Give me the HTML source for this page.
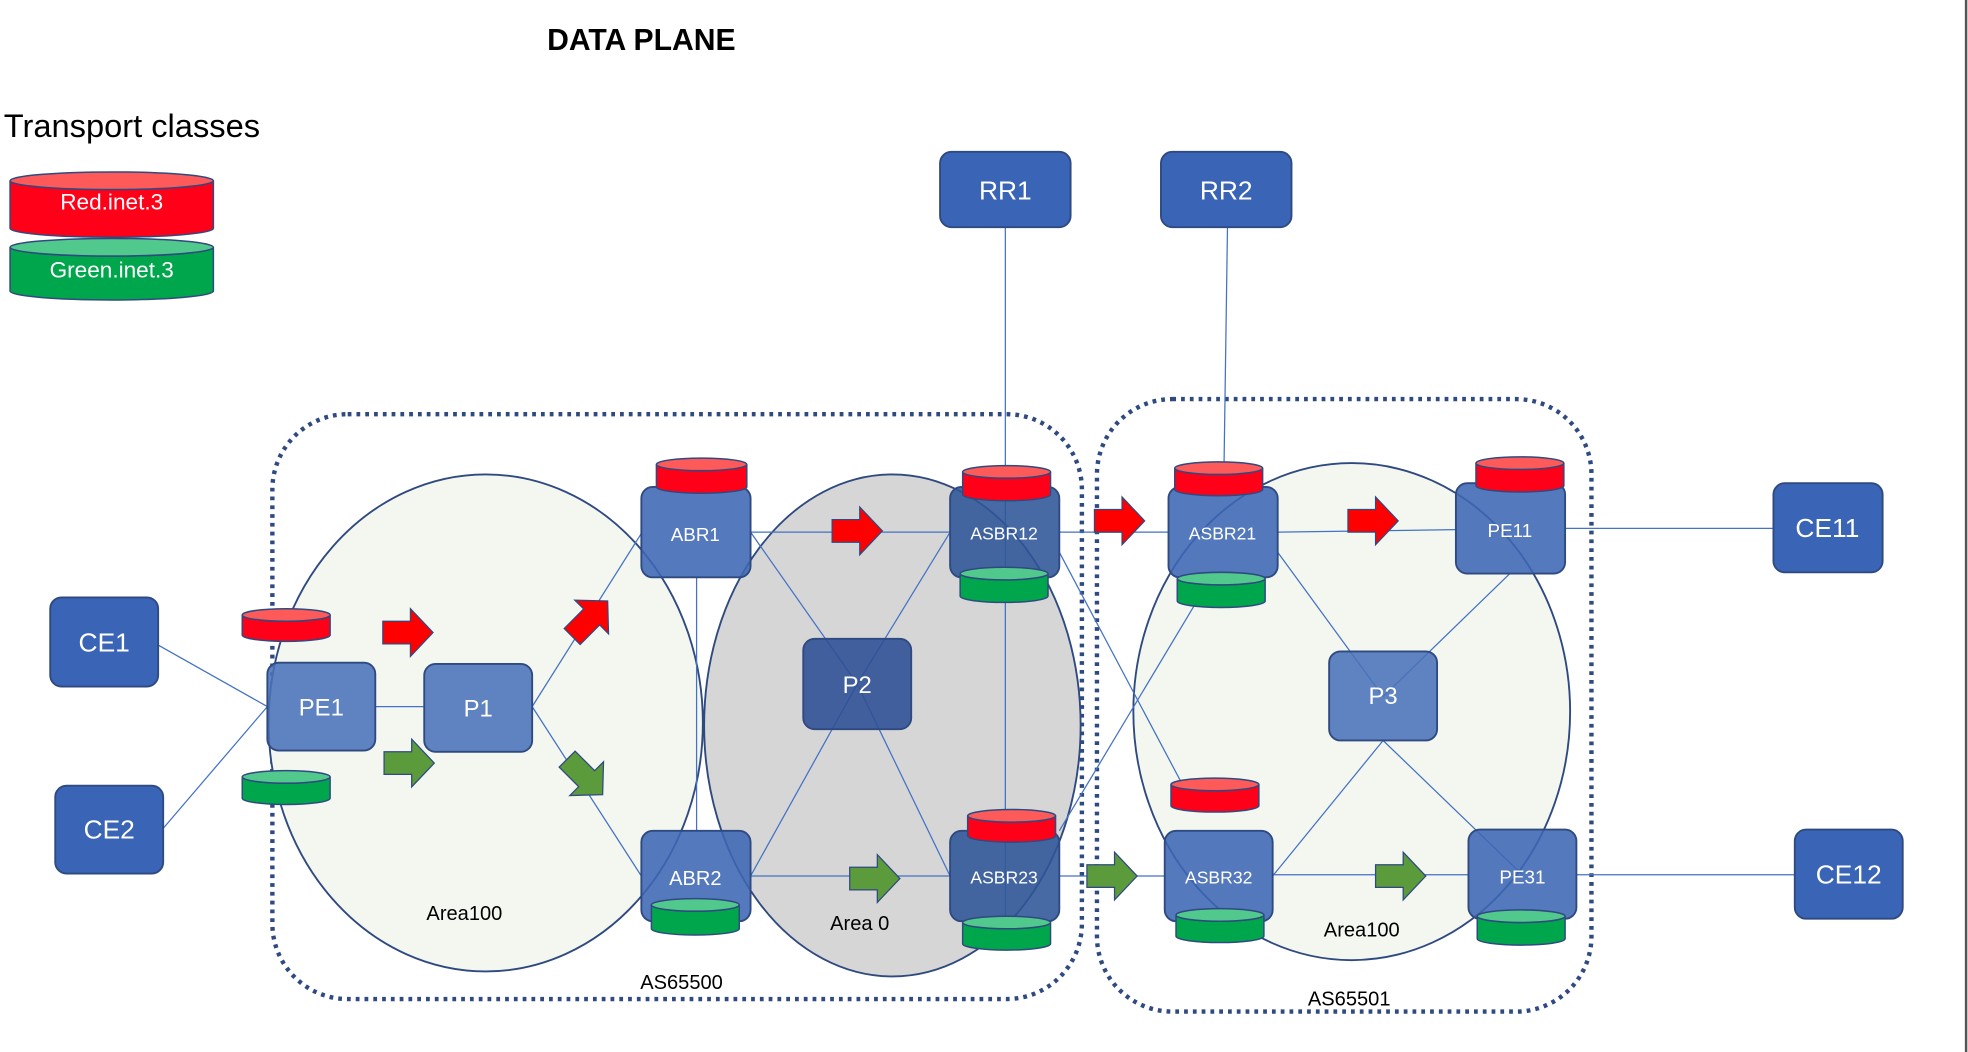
<!DOCTYPE html>
<html><head><meta charset="utf-8"><style>
html,body{margin:0;padding:0;background:#fff}
svg{display:block}
text{font-family:"Liberation Sans",sans-serif}
</style></head><body>
<svg width="1968" height="1052" viewBox="0 0 1568 838.2" xmlns="http://www.w3.org/2000/svg">
<rect x="0" y="0" width="1568" height="839" fill="#fff"/>
<line x1="1566.5" y1="0" x2="1566.5" y2="839" stroke="#555" stroke-width="2"/>
<text x="511" y="40" font-size="24" font-weight="bold" text-anchor="middle">DATA PLANE</text>
<text x="3" y="109" font-size="26">Transport classes</text>
<!-- legend -->
<g stroke="#2f4a80" stroke-width="1.2">
<path d="M8 144 a81 7 0 0 0 162 0 v38 a81 7 0 0 1 -162 0 z" fill="#ff0018"/>
<ellipse cx="89" cy="144" rx="81" ry="7" fill="#ff5a5a"/>
<path d="M8 197 a81 7 0 0 0 162 0 v35 a81 7 0 0 1 -162 0 z" fill="#00a64c"/>
<ellipse cx="89" cy="197" rx="81" ry="7" fill="#52c98c"/>
</g>
<text x="89" y="167" font-size="18" fill="#fff" text-anchor="middle">Red.inet.3</text>
<text x="89" y="221" font-size="18" fill="#fff" text-anchor="middle">Green.inet.3</text>

<!-- AS boundaries -->
<rect x="217" y="330" width="645" height="466" rx="60" fill="none" stroke="#2f4a80" stroke-width="3.5" stroke-dasharray="3,4"/>
<rect x="874" y="318" width="394" height="488" rx="60" fill="none" stroke="#2f4a80" stroke-width="3.5" stroke-dasharray="3,4"/>
<!-- areas -->
<ellipse cx="387" cy="576" rx="173" ry="198" fill="#f4f7f0" stroke="#2f4a80" stroke-width="1.5"/>
<ellipse cx="711" cy="578" rx="150" ry="200" fill="#d6d6d6" stroke="#2f4a80" stroke-width="1.5"/>
<ellipse cx="1077" cy="567" rx="174" ry="198" fill="#f4f7f0" stroke="#2f4a80" stroke-width="1.5"/>

<!-- links -->
<g stroke="#4472c4" stroke-width="1">
<line x1="126" y1="514" x2="213" y2="563"/>
<line x1="130" y1="660" x2="213" y2="563"/>
<line x1="299" y1="563" x2="338" y2="563"/>
<line x1="424" y1="563" x2="511" y2="425"/>
<line x1="424" y1="563" x2="511" y2="698"/>
<line x1="555" y1="460" x2="555" y2="662"/>
<line x1="598" y1="424" x2="757" y2="424"/>
<line x1="598" y1="424" x2="683" y2="545"/>
<line x1="598" y1="698" x2="683" y2="545"/>
<line x1="598" y1="698" x2="757" y2="698"/>
<line x1="757" y1="424" x2="683" y2="545"/>
<line x1="757" y1="698" x2="683" y2="545"/>
<line x1="801" y1="181" x2="801" y2="734"/>
<line x1="978" y1="181" x2="975" y2="388"/>
<line x1="844" y1="424" x2="931" y2="424"/>
<line x1="844" y1="440" x2="950" y2="640"/>
<line x1="844" y1="662" x2="965" y2="460"/>
<line x1="844" y1="698" x2="928" y2="698"/>
<line x1="1018" y1="424" x2="1160" y2="422"/>
<line x1="1018" y1="440" x2="1102" y2="555"/>
<line x1="1203" y1="457" x2="1102" y2="555"/>
<line x1="1102" y1="590" x2="1014" y2="698"/>
<line x1="1102" y1="590" x2="1213" y2="697"/>
<line x1="1014" y1="697" x2="1170" y2="697"/>
<line x1="1247" y1="421" x2="1413" y2="421"/>
<line x1="1256" y1="697" x2="1430" y2="697"/>
</g>

<!-- nodes -->
<g stroke="#2f4a80" stroke-width="1.5">
<rect x="749" y="121" width="104" height="60" rx="9" fill="#3a64b6"/>
<rect x="925" y="121" width="104" height="60" rx="9" fill="#3a64b6"/>
<rect x="40" y="476" width="86" height="71" rx="9" fill="#3a64b6"/>
<rect x="44" y="626" width="86" height="70" rx="9" fill="#3a64b6"/>
<rect x="1413" y="385" width="87" height="71" rx="9" fill="#3a64b6"/>
<rect x="1430" y="661" width="86" height="71" rx="9" fill="#3a64b6"/>
<g fill-opacity="0.88">
<rect x="213" y="528" width="86" height="70" rx="9" fill="#4a72b8"/>
<rect x="338" y="529" width="86" height="70" rx="9" fill="#4a72b8"/>
<rect x="511" y="388" width="87" height="72" rx="9" fill="#3d66b4"/>
<rect x="511" y="662" width="87" height="72" rx="9" fill="#3d66b4"/>
<rect x="640" y="509" width="86" height="72" rx="9" fill="#2c4f94"/>
<rect x="757" y="388" width="87" height="72" rx="9" fill="#2f5597"/>
<rect x="757" y="662" width="87" height="72" rx="9" fill="#2f5597"/>
<rect x="931" y="388" width="87" height="72" rx="9" fill="#3d66b4"/>
<rect x="928" y="662" width="86" height="72" rx="9" fill="#3d66b4"/>
<rect x="1059" y="519" width="86" height="71" rx="9" fill="#4a72b8"/>
<rect x="1160" y="385" width="87" height="72" rx="9" fill="#3d66b4"/>
<rect x="1170" y="661" width="86" height="71" rx="9" fill="#3d66b4"/>
</g>
</g>
<g fill="#fff" text-anchor="middle" font-size="21">
<text x="801" y="159">RR1</text>
<text x="977" y="159">RR2</text>
<text x="83" y="519">CE1</text>
<text x="87" y="668">CE2</text>
<text x="1456" y="428">CE11</text>
<text x="1473" y="704">CE12</text>
<text x="256" y="570" font-size="19">PE1</text>
<text x="381" y="571" font-size="19">P1</text>
<text x="683" y="552" font-size="19">P2</text>
<text x="1102" y="561" font-size="19">P3</text>
<text x="554" y="431" font-size="15">ABR1</text>
<text x="554" y="705" font-size="16">ABR2</text>
<text x="800" y="430" font-size="14">ASBR12</text>
<text x="800" y="704" font-size="14">ASBR23</text>
<text x="974" y="430" font-size="14">ASBR21</text>
<text x="971" y="704" font-size="14">ASBR32</text>
<text x="1203" y="428" font-size="15">PE11</text>
<text x="1213" y="704" font-size="15">PE31</text>
</g>

<!-- cylinders -->
<g stroke="#2f4a80" stroke-width="1.2">
<g fill="#ff0018">
<path d="M193 490 a35 5 0 0 0 70 0 v16 a35 5 0 0 1 -70 0 z"/>
<path d="M523 370 a36 5 0 0 0 72 0 v18 a36 5 0 0 1 -72 0 z"/>
<path d="M767 376 a35 5 0 0 0 70 0 v18 a35 5 0 0 1 -70 0 z"/>
<path d="M771 650 a35 5 0 0 0 70 0 v16 a35 5 0 0 1 -70 0 z"/>
<path d="M936 373 a35 5 0 0 0 70 0 v17 a35 5 0 0 1 -70 0 z"/>
<path d="M933 625 a35 5 0 0 0 70 0 v17 a35 5 0 0 1 -70 0 z"/>
<path d="M1176 369 a35 5 0 0 0 70 0 v18 a35 5 0 0 1 -70 0 z"/>
</g>
<g fill="#ff5a5a">
<ellipse cx="228" cy="490" rx="35" ry="5"/>
<ellipse cx="559" cy="370" rx="36" ry="5"/>
<ellipse cx="802" cy="376" rx="35" ry="5"/>
<ellipse cx="806" cy="650" rx="35" ry="5"/>
<ellipse cx="971" cy="373" rx="35" ry="5"/>
<ellipse cx="968" cy="625" rx="35" ry="5"/>
<ellipse cx="1211" cy="369" rx="35" ry="5"/>
</g>
<g fill="#00a64c">
<path d="M193 619 a35 5 0 0 0 70 0 v17 a35 5 0 0 1 -70 0 z"/>
<path d="M519 721 a35 5 0 0 0 70 0 v19 a35 5 0 0 1 -70 0 z"/>
<path d="M765 457 a35 5 0 0 0 70 0 v18 a35 5 0 0 1 -70 0 z"/>
<path d="M767 735 a35 5 0 0 0 70 0 v17 a35 5 0 0 1 -70 0 z"/>
<path d="M938 461 a35 5 0 0 0 70 0 v18 a35 5 0 0 1 -70 0 z"/>
<path d="M937 729 a35 5 0 0 0 70 0 v17 a35 5 0 0 1 -70 0 z"/>
<path d="M1177 730 a35 5 0 0 0 70 0 v18 a35 5 0 0 1 -70 0 z"/>
</g>
<g fill="#52c98c">
<ellipse cx="228" cy="619" rx="35" ry="5"/>
<ellipse cx="554" cy="721" rx="35" ry="5"/>
<ellipse cx="800" cy="457" rx="35" ry="5"/>
<ellipse cx="802" cy="735" rx="35" ry="5"/>
<ellipse cx="973" cy="461" rx="35" ry="5"/>
<ellipse cx="972" cy="729" rx="35" ry="5"/>
<ellipse cx="1212" cy="730" rx="35" ry="5"/>
</g>
</g>

<!-- arrows -->
<defs>
<polygon id="ar" points="-20,-9 2,-9 2,-19 20,0 2,19 2,9 -20,9"/>
</defs>
<g stroke="#2f4a80" stroke-width="1">
<g fill="#ff0000">
<use href="#ar" transform="translate(325,504)"/>
<use href="#ar" transform="translate(470,493) rotate(-45)"/>
<use href="#ar" transform="translate(683,423)"/>
<use href="#ar" transform="translate(892,415)"/>
<use href="#ar" transform="translate(1094,415)"/>
</g>
<g fill="#5b9b3c">
<use href="#ar" transform="translate(326,608)"/>
<use href="#ar" transform="translate(466,619) rotate(45)"/>
<use href="#ar" transform="translate(697,700)"/>
<use href="#ar" transform="translate(886,698)"/>
<use href="#ar" transform="translate(1116,698)"/>
</g>
</g>

<!-- labels -->
<g font-size="16" fill="#000" text-anchor="middle">
<text x="370" y="733">Area100</text>
<text x="685" y="741">Area 0</text>
<text x="543" y="788">AS65500</text>
<text x="1085" y="746">Area100</text>
<text x="1075" y="801">AS65501</text>
</g>
</svg>
</body></html>
